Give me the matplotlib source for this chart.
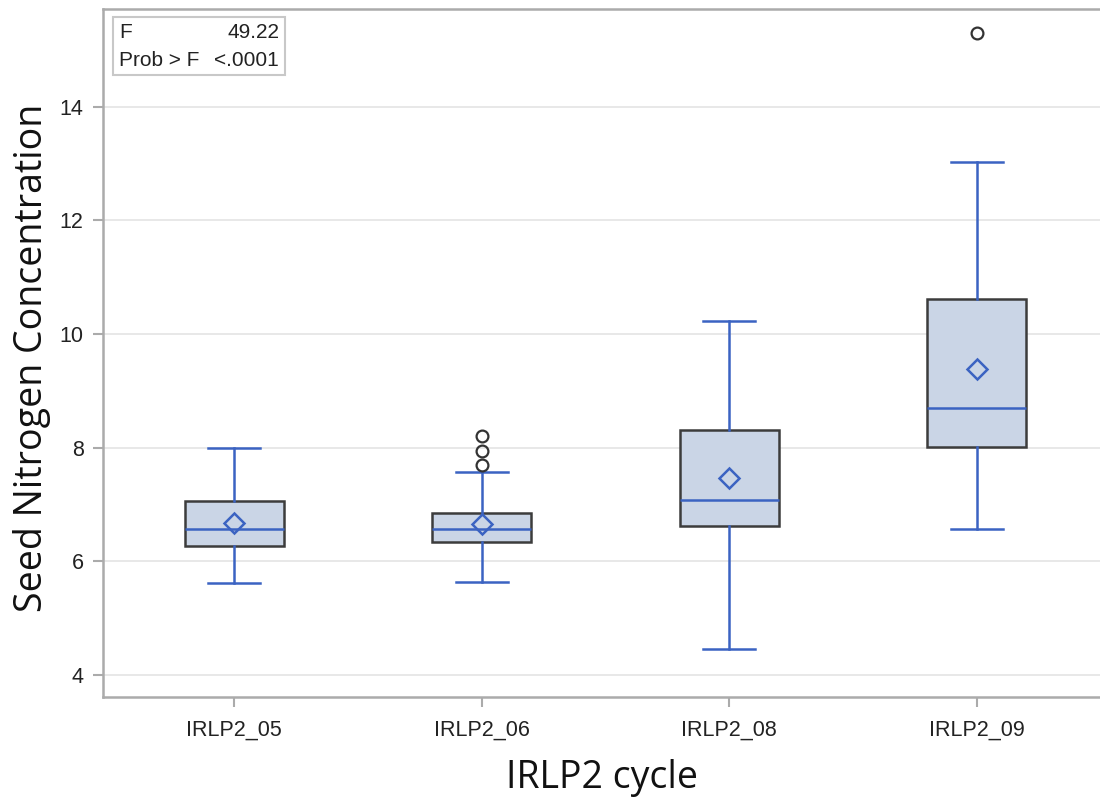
import matplotlib
matplotlib.use("Agg")
import matplotlib.pyplot as plt
from matplotlib.patches import Rectangle

# Summary statistics per cycle
cycles = ["IRLP2_05", "IRLP2_06", "IRLP2_08", "IRLP2_09"]
whisker_low = [5.62, 5.63, 4.46, 6.57]
q1 = [6.27, 6.34, 6.62, 8.01]
median = [6.57, 6.57, 7.08, 8.69]
q3 = [7.06, 6.85, 8.31, 10.61]
whisker_high = [7.99, 7.57, 10.22, 13.03]
mean = [6.67, 6.65, 7.46, 9.38]
outliers = [[], [7.69, 7.94, 8.20], [], [15.30]]

f_value = "49.22"
p_value = "<.0001"

blue = "#3B63C2"
fill = "#CAD5E6"
edge = "#3C3C3C"

plt.rcParams["font.family"] = ["Liberation Sans", "DejaVu Sans"]

fig = plt.figure(figsize=(11.0, 8.01), dpi=100)
ax = fig.add_axes([103 / 1100, 104 / 801, 1005 / 1100, 688 / 801])

stats = []
for i, name in enumerate(cycles):
    stats.append(dict(label=name, whislo=whisker_low[i], q1=q1[i], med=median[i],
                      q3=q3[i], whishi=whisker_high[i], mean=mean[i],
                      fliers=outliers[i]))

positions = list(range(len(cycles)))
ax.bxp(stats, positions=positions, widths=0.4, patch_artist=True,
       showmeans=True, showfliers=True,
       boxprops=dict(facecolor=fill, edgecolor=edge, linewidth=1.8),
       medianprops=dict(color=blue, linewidth=1.8),
       whiskerprops=dict(color=blue, linewidth=1.8),
       capprops=dict(color=blue, linewidth=1.8),
       capwidths=0.21,
       meanprops=dict(marker="D", markerfacecolor="none", markeredgecolor=blue,
                      markeredgewidth=1.8, markersize=10),
       flierprops=dict(marker="o", markerfacecolor="none", markeredgecolor="#333333",
                       markeredgewidth=1.6, markersize=8.5),
       zorder=3)

ax.set_xlim(-0.53, 3.53)
ax.set_ylim(3.61, 15.72)
ax.set_yticks([4, 6, 8, 10, 12, 14])
ax.set_xticks(positions)
ax.set_xticklabels(cycles)
ax.yaxis.grid(True, color="#E6E6E6", linewidth=1.3, zorder=0)
ax.set_axisbelow(True)

for side in ["left", "bottom", "top", "right"]:
    ax.spines[side].set_color("#ABABAB")
    ax.spines[side].set_linewidth(1.8)

ax.tick_params(axis="both", colors="#ABABAB", labelcolor="#222222",
               labelsize=15.5, length=7, width=1.5)
ax.tick_params(axis="x", pad=9)
ax.tick_params(axis="y", pad=7)

ax.set_ylabel("Seed Nitrogen Concentration", fontsize=27,
              family=["Open Sans", "DejaVu Sans"], color="#111111")
ax.yaxis.set_label_coords(-0.052, 0.4935)
ax.set_xlabel("IRLP2 cycle", fontsize=27,
              family=["Open Sans", "DejaVu Sans"], color="#111111")
ax.xaxis.set_label_coords(0.497, -0.090)

# ANOVA inset
box_x0, box_y0 = 113, 17
box_w, box_h = 172, 58
fig.patches.append(Rectangle((box_x0 / 1100, 1 - (box_y0 + box_h) / 801),
                             box_w / 1100, box_h / 801, transform=fig.transFigure,
                             facecolor="white", edgecolor="#C8C8C8", linewidth=1.5,
                             zorder=5))
fig.text(119 / 1100, 1 - 32 / 801, "F", fontsize=15, color="#222222",
         va="center", ha="left", zorder=6)
fig.text(279 / 1100, 1 - 32 / 801, f_value, fontsize=15, color="#222222",
         va="center", ha="right", zorder=6)
fig.text(119 / 1100, 1 - 60 / 801, "Prob > F", fontsize=15, color="#222222",
         va="center", ha="left", zorder=6)
fig.text(279 / 1100, 1 - 60 / 801, p_value, fontsize=15, color="#222222",
         va="center", ha="right", zorder=6)

fig.savefig("out.png", dpi=100)
